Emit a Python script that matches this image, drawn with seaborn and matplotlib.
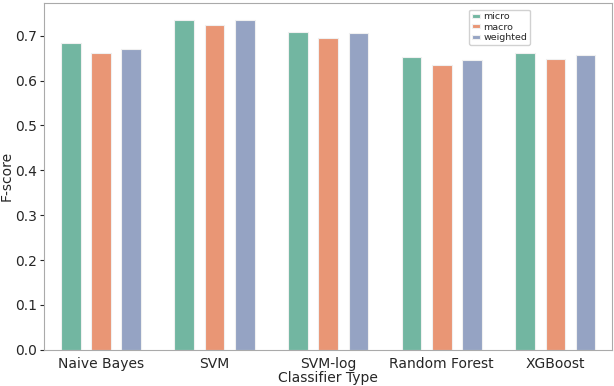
import matplotlib
matplotlib.use("Agg")
import matplotlib.pyplot as plt
import seaborn as sns
import pandas as pd

classifiers = ["Naive Bayes", "SVM", "SVM-log", "Random Forest", "XGBoost"]
micro = [0.684, 0.736, 0.709, 0.652, 0.661]
macro = [0.662, 0.723, 0.694, 0.635, 0.648]
weighted = [0.671, 0.735, 0.705, 0.646, 0.658]

rows = []
for i, c in enumerate(classifiers):
    rows.append({"Classifier Type": c, "F-score": micro[i], "avg": "micro"})
    rows.append({"Classifier Type": c, "F-score": macro[i], "avg": "macro"})
    rows.append({"Classifier Type": c, "F-score": weighted[i], "avg": "weighted"})
df = pd.DataFrame(rows)

sns.set_style("white")
fig = plt.figure(figsize=(6.14, 3.86), dpi=100)
ax = fig.add_axes([0.072, 0.094, 0.925, 0.898])

sns.barplot(data=df, x="Classifier Type", y="F-score", hue="avg",
            palette="Set2", gap=0.35, edgecolor="#f0f0f0", linewidth=0.8, ax=ax)

ax.tick_params(axis="both", labelsize=10, length=3, pad=2, left=True, bottom=False)
ax.set_xlabel("Classifier Type", fontsize=10, labelpad=0)
ax.set_ylabel("F-score", fontsize=10, labelpad=1)
for s in ax.spines.values():
    s.set_color("#aaaaaa")

ax.legend(loc="upper left", bbox_to_anchor=(0.74, 0.995), fontsize=6.8,
          handlelength=0.8, handleheight=0.3, borderpad=0.3,
          labelspacing=0.15, handletextpad=0.4, framealpha=0.9)

fig.savefig("out.png", dpi=100)
